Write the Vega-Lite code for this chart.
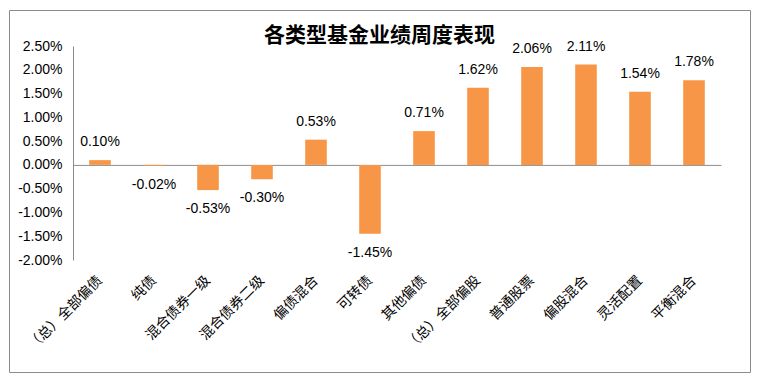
{
  "$schema": "https://vega.github.io/schema/vega-lite/v6.json",
  "autosize": "none",
  "width": 741,
  "height": 362,
  "padding": {"left": 9, "top": 10, "right": 9, "bottom": 10},
  "background": "white",
  "config": {
    "view": {"stroke": "#8c8c8c", "strokeWidth": 1},
    "font": "Liberation Sans",
    "locale": {
      "number": {"decimal": ".", "thousands": ",", "grouping": [3], "currency": ["", ""], "minus": "-"}
    }
  },
  "title": {
    "text": "各类型基金业绩周度表现",
    "font": "Noto Sans CJK SC",
    "fontSize": 21,
    "fontWeight": "bold",
    "color": "#000000",
    "anchor": "middle",
    "offset": -36
  },
  "data": {
    "values": [
      {"cat": "（总）全部偏债", "v": 0.0010},
      {"cat": "纯债", "v": -0.0002},
      {"cat": "混合债券一级", "v": -0.0053},
      {"cat": "混合债券二级", "v": -0.0030},
      {"cat": "偏债混合", "v": 0.0053},
      {"cat": "可转债", "v": -0.0145},
      {"cat": "其他偏债", "v": 0.0071},
      {"cat": "（总）全部偏股", "v": 0.0162},
      {"cat": "普通股票", "v": 0.0206},
      {"cat": "偏股混合", "v": 0.0211},
      {"cat": "灵活配置", "v": 0.0154},
      {"cat": "平衡混合", "v": 0.0178}
    ]
  },
  "encoding": {
    "x": {
      "field": "cat",
      "type": "nominal",
      "sort": null,
      "scale": {"range": [64, 712], "paddingInner": 0.6, "paddingOuter": 0.3}
    },
    "y": {
      "field": "v",
      "type": "quantitative",
      "scale": {"domain": [-0.02, 0.025], "range": [250, 36], "nice": false, "zero": false}
    }
  },
  "layer": [
    {
      "mark": {"type": "bar", "color": "#F79646"},
      "encoding": {
        "x": {
          "field": "cat",
          "type": "nominal",
          "sort": null,
          "title": null,
          "axis": {
            "orient": "bottom",
            "offset": -112,
            "domain": false,
            "ticks": false,
            "labelAngle": -45,
            "labelAlign": "right",
            "labelBaseline": "middle",
            "labelPadding": 18,
            "labelFont": "Noto Sans CJK SC",
            "labelFontSize": 14,
            "labelColor": "#000000",
            "labelLimit": 200
          }
        },
        "y": {
          "field": "v",
          "type": "quantitative",
          "title": null,
          "axis": {
            "orient": "left",
            "offset": -64,
            "values": [-0.02, -0.015, -0.01, -0.005, 0, 0.005, 0.01, 0.015, 0.02, 0.025],
            "format": ".2%",
            "grid": false,
            "ticks": false,
            "domain": true,
            "domainColor": "#8c8c8c",
            "labelPadding": 11,
            "labelFont": "Liberation Sans",
            "labelFontSize": 14,
            "labelColor": "#000000"
          }
        }
      }
    },
    {
      "transform": [{"filter": "datum.v >= 0"}],
      "mark": {"type": "text", "baseline": "middle", "dy": -18, "fontSize": 14, "font": "Liberation Sans", "color": "#000000"},
      "encoding": {
        "x": {
          "field": "cat",
          "type": "nominal",
          "sort": null,
          "title": null,
          "axis": {
            "orient": "bottom",
            "offset": -207.1,
            "domain": true,
            "domainColor": "#8c8c8c",
            "ticks": false,
            "labels": false
          }
        },
        "text": {"field": "v", "type": "quantitative", "format": ".2%"}
      }
    },
    {
      "transform": [{"filter": "datum.v < 0"}],
      "mark": {"type": "text", "baseline": "middle", "dy": 19, "fontSize": 14, "font": "Liberation Sans", "color": "#000000"},
      "encoding": {
        "x": {"field": "cat", "type": "nominal", "sort": null, "axis": null},
        "text": {"field": "v", "type": "quantitative", "format": ".2%"}
      }
    }
  ],
  "resolve": {"axis": {"x": "independent"}}
}
